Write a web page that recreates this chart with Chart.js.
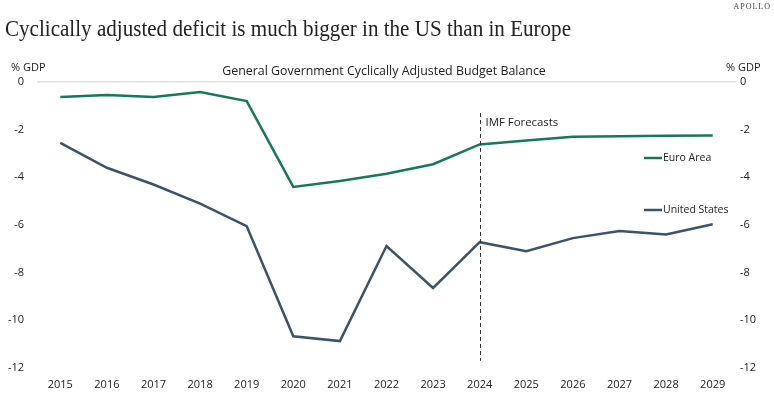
<!DOCTYPE html>
<html>
<head>
<meta charset="utf-8">
<script src="https://cdn.jsdelivr.net/npm/chart.js@4"></script>
<style>
  html, body { margin: 0; padding: 0; background: #fff; }
  #wrap { position: relative; width: 774px; height: 393px; }
</style>
</head>
<body>
<div id="wrap"><canvas id="lineChart" width="774" height="393"></canvas></div>
<script>
const years = ['2015', '2016', '2017', '2018', '2019', '2020', '2021', '2022', '2023', '2024', '2025', '2026', '2027', '2028', '2029'];
const euroArea = [-0.63, -0.55, -0.63, -0.42, -0.8, -4.4, -4.15, -3.85, -3.45, -2.62, -2.45, -2.3, -2.28, -2.26, -2.24];
const unitedStates = [-2.55, -3.6, -4.3, -5.1, -6.05, -10.67, -10.87, -6.88, -8.64, -6.72, -7.1, -6.55, -6.25, -6.4, -5.97];
const yTicks = [0, -2, -4, -6, -8, -10, -12];
const forecastStart = '2024';

const green = '#15795b';
const navy = '#3c5468';
const sans = "'Open Sans', 'Noto Sans', sans-serif";

// texts, forecast marker and inline legend
const extras = {
    id: 'extras',
    afterDraw(chart) {
        const c = chart.ctx;
        const x = chart.scales.x;
        const y = chart.scales.y;
        c.save();

        // serif headline, squeezed to the width of the original
        const title = 'Cyclically adjusted deficit is much bigger in the US than in Europe';
        c.fillStyle = '#222';
        c.font = "23px 'Liberation Serif', serif";
        c.textBaseline = 'alphabetic';
        c.textAlign = 'left';
        const sx = 566 / c.measureText(title).width;
        c.save();
        c.translate(5, 36);
        c.scale(sx, 1);
        c.fillText(title, 0, 0);
        c.restore();

        c.font = "8px 'Liberation Serif', serif";
        c.fillStyle = '#444';
        c.textAlign = 'right';
        c.letterSpacing = '1px';
        c.fillText('APOLLO', 771, 9);
        c.letterSpacing = '0px';

        c.fillStyle = '#222';
        c.font = '12.4px ' + sans;
        c.textAlign = 'center';
        c.textBaseline = 'middle';
        c.fillText('General Government Cyclically Adjusted Budget Balance', 384, 71);

        c.font = '11px ' + sans;
        c.textAlign = 'left';
        c.fillText('% GDP', 11, 68);
        c.fillText('% GDP', 726, 68);

        // forecast marker
        const fx = Math.round(x.getPixelForValue(years.indexOf(forecastStart))) + 0.5;
        c.strokeStyle = '#333';
        c.lineWidth = 1;
        c.setLineDash([4, 3]);
        c.beginPath();
        c.moveTo(fx, y.getPixelForValue(-1.3));
        c.lineTo(fx, y.getPixelForValue(-11.7));
        c.stroke();
        c.setLineDash([]);
        c.font = '11.4px ' + sans;
        c.fillText('IMF Forecasts', fx + 5, y.getPixelForValue(-1.7));

        // inline legend
        c.font = '10.5px ' + sans;
        const items = [['Euro Area', green, 158], ['United States', navy, 210]];
        items.forEach(([label, color, ly]) => {
            c.strokeStyle = color;
            c.lineWidth = 2.5;
            c.beginPath();
            c.moveTo(644, ly);
            c.lineTo(662, ly);
            c.stroke();
            c.fillStyle = '#222';
            c.fillText(label, 663, ly);
        });
        c.restore();
    }
};

const ctx = document.getElementById('lineChart');

new Chart(ctx, {
    type: 'line',
    data: {
        labels: years,
        datasets: [{
            label: 'Euro Area',
            data: euroArea,
            borderColor: green,
            borderWidth: 2.5,
            pointRadius: 0,
            tension: 0
        }, {
            label: 'United States',
            data: unitedStates,
            borderColor: navy,
            borderWidth: 2.5,
            pointRadius: 0,
            tension: 0
        }]
    },
    options: {
        responsive: false,
        animation: false,
        layout: { padding: { top: 82, left: 0, right: 0, bottom: 0 } },
        plugins: {
            legend: { display: false },
            tooltip: { enabled: false }
        },
        scales: {
            x: {
                offset: true,
                grid: { display: false, drawTicks: false },
                border: { display: false },
                ticks: { color: '#222', font: { family: sans, size: 11 }, padding: 10, maxRotation: 0, autoSkip: false },
                afterFit(scale) { scale.height = 25; }
            },
            y: {
                position: 'left',
                min: -12,
                max: 0,
                afterBuildTicks(scale) { scale.ticks = yTicks.map(v => ({ value: v })); },
                grid: {
                    drawTicks: false,
                    color: c => (c.tick && c.tick.value === 0 ? '#dedede' : 'rgba(0,0,0,0)'),
                    lineWidth: 1.5
                },
                border: { display: false },
                ticks: { color: '#222', font: { family: sans, size: 11 }, padding: 13 },
                afterFit(scale) { scale.width = 37; }
            },
            y2: {
                position: 'right',
                min: -12,
                max: 0,
                afterBuildTicks(scale) { scale.ticks = yTicks.map(v => ({ value: v })); },
                grid: { display: false, drawTicks: false },
                border: { display: false },
                ticks: { color: '#222', font: { family: sans, size: 11 }, padding: 4 },
                afterFit(scale) { scale.width = 38; }
            }
        }
    },
    plugins: [extras]
});
</script>
</body>
</html>
